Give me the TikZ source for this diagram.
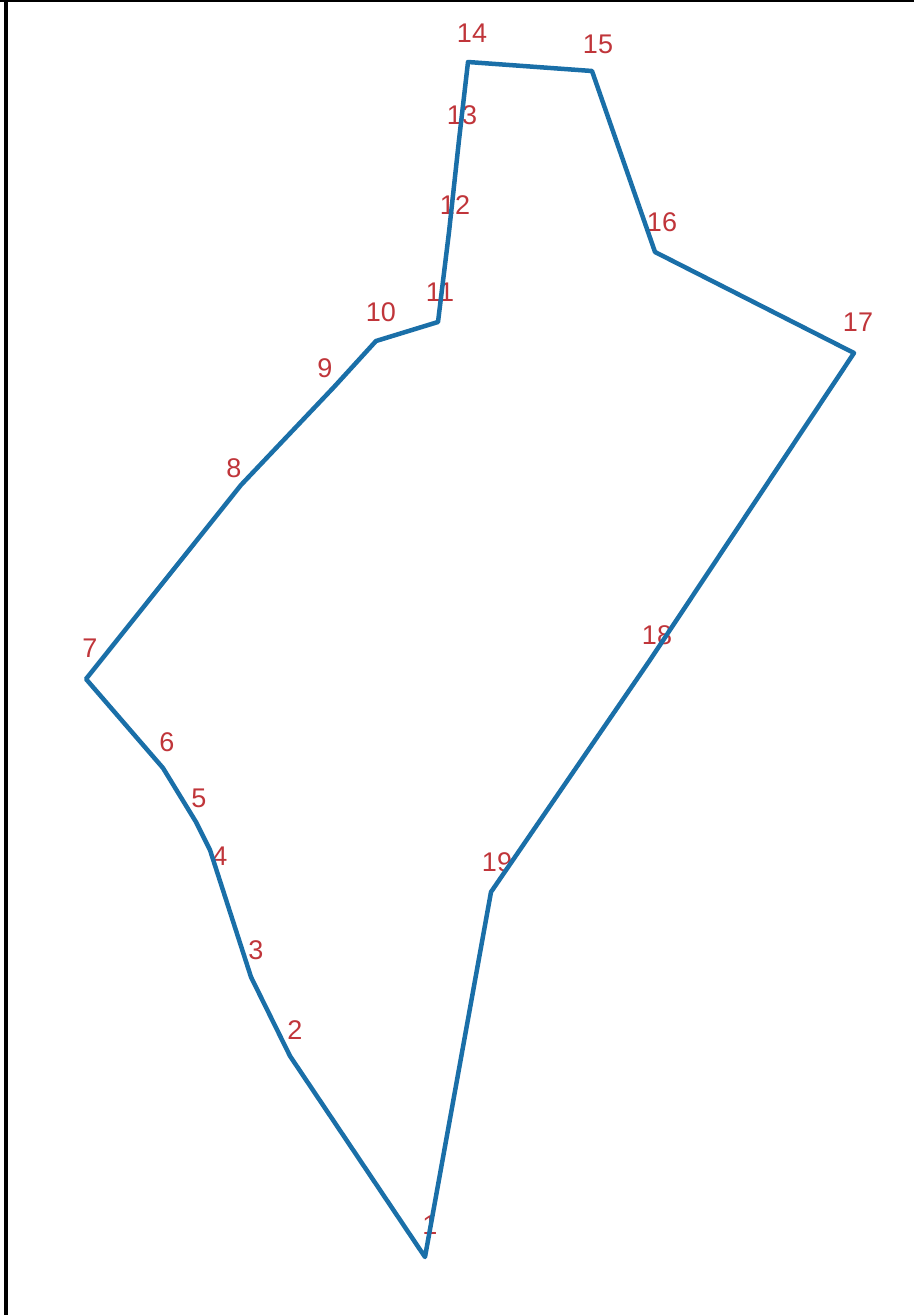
\documentclass[tikz,border=0pt]{standalone}
\usepackage{fontspec}
\setmainfont{Liberation Sans}
\definecolor{polyblue}{HTML}{1A6FA8}
\definecolor{labred}{HTML}{C0353A}
\begin{document}
\begin{tikzpicture}[x=1pt,y=-1pt,
  lab/.style={text=labred,font=\fontsize{27}{27}\selectfont,inner sep=0pt,anchor=center},
  poly/.style={draw=polyblue,line width=4.5pt,line join=round},
  frame/.style={draw=black}]
\useasboundingbox (0,0) rectangle (914,1315);
\fill[white] (0,0) rectangle (914,1315);
% frame
\draw[frame,line width=4pt] (6,0) -- (6,1315);
\draw[frame,line width=2pt] (0,1) -- (914,1);
% vertices
\coordinate (p1) at (425,1257);
\coordinate (p2) at (290,1056);
\coordinate (p3) at (251,977);
\coordinate (p4) at (210,850);
\coordinate (p5) at (196,822);
\coordinate (p6) at (163,768);
\coordinate (p7) at (86,679);
\coordinate (p8) at (241,485);
\coordinate (p9) at (334,387);
\coordinate (p10) at (376,341);
\coordinate (p11) at (438,322);
\coordinate (p12) at (449,232);
\coordinate (p13) at (459,140);
\coordinate (p14) at (468,62);
\coordinate (p15) at (592,71);
\coordinate (p16) at (655,252);
\coordinate (p17) at (854,353);
\coordinate (p18) at (650,660);
\coordinate (p19) at (491,892);
% labels
\node[lab] (l1) at (430,1225) {1};
\node[lab] (l2) at (295,1030) {2};
\node[lab] (l3) at (256,950) {3};
\node[lab] (l4) at (220,856) {4};
\node[lab] (l5) at (199,798) {5};
\node[lab] (l6) at (167,742) {6};
\node[lab] (l7) at (90,648) {7};
\node[lab] (l8) at (234,468) {8};
\node[lab] (l9) at (325,368) {9};
\node[lab] (l10) at (381,312) {10};
\node[lab] (l11) at (440,292) {11};
\node[lab] (l12) at (455,205) {12};
\node[lab] (l13) at (462,115) {13};
\node[lab] (l14) at (472,33) {14};
\node[lab] (l15) at (598,44) {15};
\node[lab] (l16) at (662,222) {16};
\node[lab] (l17) at (858,322) {17};
\node[lab] (l18) at (657,635) {18};
\node[lab] (l19) at (497,862) {19};
% polygon
\draw[poly] (p1) -- (p2) -- (p3) -- (p4) -- (p5) -- (p6) -- (p7) -- (p8) -- (p9) -- (p10) -- (p11) -- (p12) -- (p13) -- (p14) -- (p15) -- (p16) -- (p17) -- (p18) -- (p19) -- cycle;
\end{tikzpicture}
\end{document}
